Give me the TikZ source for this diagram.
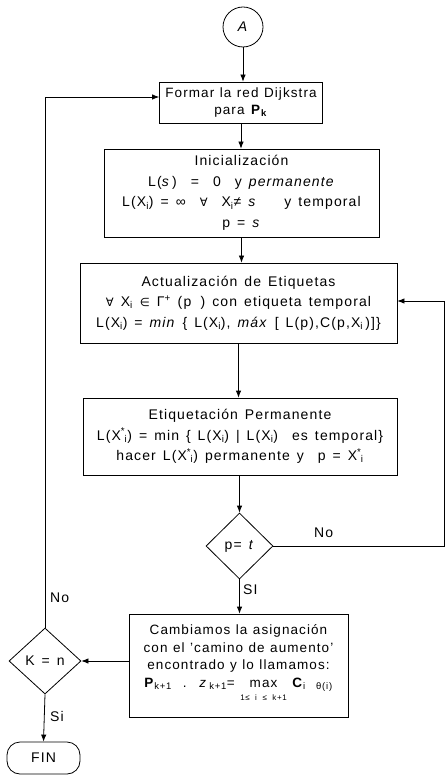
\documentclass[tikz,border=0pt]{standalone}
\usepackage{fontspec}
\setmainfont{Liberation Sans}[LetterSpace=8.0]
\newfontfamily\symf{DejaVu Sans}
\usetikzlibrary{arrows.meta,shapes.geometric}
\newcommand\supsub[2]{X\textsuperscript{#1}\kern-0.5pt\textsubscript{#2}}
\newcommand\undermax[1]{\begin{tabular}[t]{@{}c@{}}max\\[-4pt]{\fontsize{8}{8}\selectfont #1}\end{tabular}}
\newcommand\wsp{\spaceskip=7pt plus 1pt\relax}
\newcommand\wsb{\spaceskip=5.5pt plus 1pt\relax}
\newcommand\fa{\fontsize{14}{20.5}\selectfont\wsp}
\newcommand\fb{\fontsize{13.5}{17.5}\selectfont\wsb}
\newcommand\sy{\symf\fontsize{11.5}{11.5}\selectfont}
\begin{document}
\begin{tikzpicture}[x=1pt,y=-1pt,
  every node/.style={font=\fa},
  box/.style={draw,line width=0.8pt,rectangle,align=center,inner sep=2pt},
  dec/.style={draw,line width=0.8pt,diamond,inner sep=0pt},
  lab/.style={inner sep=1pt,anchor=west},
  arr/.style={line width=0.8pt,-{Latex[length=7pt,width=5.5pt]}},
  ln/.style={line width=0.8pt}]
\useasboundingbox (0,0) rectangle (446,775);
\node[draw,line width=0.8pt,circle,minimum size=40pt,inner sep=0pt] (A) at (243,27) {\textit{A}};
\node[box,minimum width=163pt,minimum height=41pt,font=\fb] (b1) at (241,102.5)
  {Formar la red Dijkstra\\para \textbf{P}\textsubscript{\textbf{k}}};
\node[box,minimum width=275pt,minimum height=88pt] (b2) at (241.5,193)
  {Inicialización\\
   L(\textit{s}\,)\ \ = \ 0 \ y \textit{permanente}\\
   L(X\textsubscript{i})\ = ∞ \ {\sy ∀} \ X\textsubscript{i}≠ \textit{s}\ \ \ \ y temporal\\
   p = \textit{s}};
\node[box,minimum width=317pt,minimum height=80pt] (b3) at (238.5,303)
  {Actualización de Etiquetas\\
   {\sy ∀} X\textsubscript{i} {\sy ∈} Γ\textsuperscript{+} (p\ \,) con etiqueta temporal\\
   L(X\textsubscript{i}) = \textit{min} \{ L(X\textsubscript{i}), \textit{máx} [ L(p),C(p,X\textsubscript{i}\,)]\}};
\node[box,minimum width=314pt,minimum height=77pt] (b4) at (240,436.5)
  {Etiquetación Permanente\\
   L(\supsub{*}{i}) = min \{ L(X\textsubscript{i}) | L(X\textsubscript{i}) \ es temporal\}\\
   hacer L(\supsub{*}{i}) permanente y \ p = \supsub{*}{i}};
\node[dec,minimum width=67pt,minimum height=66pt] (d1) at (239.5,546) {p= \textit{t}};
\node[box,minimum width=219pt,minimum height=103pt,font=\fb] (b5) at (238.5,665.5)
  {Cambiamos la asignación\\
   con el 'camino de aumento'\\
   encontrado y lo llamamos:\\
   \textbf{P}\textsubscript{k+1} \ . \ \textit{z}\,\textsubscript{k+1}= \undermax{1≤ i ≤ k+1} \textbf{C}\textsubscript{i\ \ θ(i)}};
\node[dec,minimum width=72pt,minimum height=66pt] (d2) at (45,661) {K = n};
\node[draw,line width=0.8pt,rectangle,rounded corners=13pt,minimum width=73pt,minimum height=32pt,inner sep=0pt] (fin) at (43.5,758) {FIN};
\coordinate (r1) at (444,546);
\coordinate (r2) at (444,301);
\coordinate (l1) at (45,97);
\draw[arr] (A.south) -- (A.south |- b1.north);
\draw[arr] (b1.south) -- (b1.south |- b2.north);
\draw[arr] (b2.south) -- (b2.south |- b3.north);
\draw[arr] (b3.south) -- (b3.south |- b4.north);
\draw[arr] (b4.south -| d1.north) -- (d1.north);
\draw[arr] (d1.south) -- (d1.south |- b5.north);
\draw[ln] (d1.east) -- (r1) -- (r2);
\draw[arr] (r2) -- (r2 -| b3.east);
\draw[arr] (d2.east -| b5.west) -- (d2.east);
\draw[ln] (d2.north) -- (l1);
\draw[arr] (l1) -- (l1 -| b1.west);
\draw[arr] (d2.south) -- (fin.north);
\node[lab] (no1) at (313,533) {No};
\node[lab] (si1) at (242,590) {SI};
\node[lab] (no2) at (49,598) {No};
\node[lab] (si2) at (49,716) {Si};
\end{tikzpicture}
\end{document}
